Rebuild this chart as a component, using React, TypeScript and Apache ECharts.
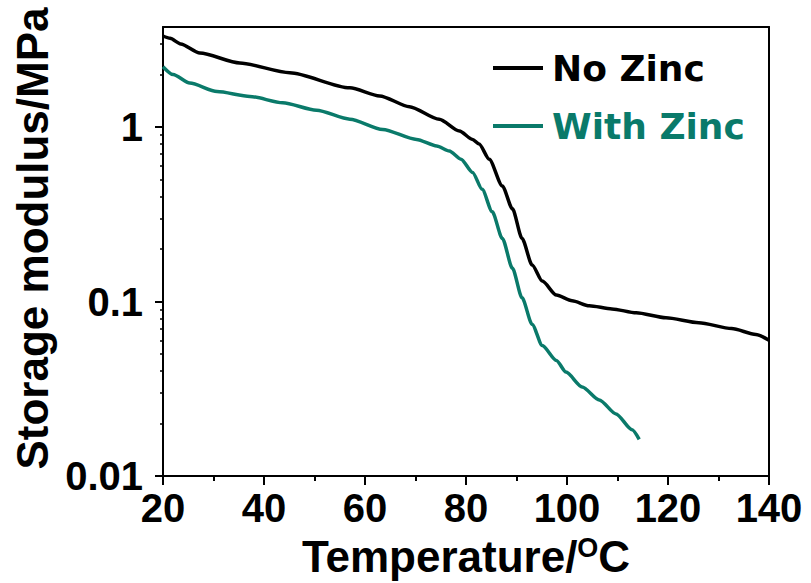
import React, { useEffect, useRef } from 'react';
import * as echarts from 'echarts';

const seriesNames = ['No Zinc', 'With Zinc'];
const seriesColors = ['#000000', '#0a7a6a'];

const noZincTemp = [20, 21.4, 23.5, 27.3, 35.2, 45.1, 57, 62.9, 68.8, 74.7, 78.7, 81.3, 82.6, 84.6, 87.2, 89.2, 91.1, 93.1, 95.1, 97.9, 101, 104.4, 108.9, 113.7, 119.6, 126.1, 132.6, 137.4, 140];
const noZincModulus = [3.33, 3.23, 3.0, 2.66, 2.33, 2.05, 1.68, 1.51, 1.31, 1.11, 0.95, 0.85, 0.8, 0.655, 0.46, 0.34, 0.23, 0.162, 0.131, 0.109, 0.101, 0.0946, 0.0908, 0.0862, 0.0807, 0.0756, 0.07, 0.0648, 0.06];

const withZincTemp = [20, 22, 25.3, 30.7, 37.2, 43.7, 50.4, 57, 63.5, 70.2, 74.2, 76.7, 79, 81.3, 83.2, 85.2, 87.2, 89.2, 91.1, 93.1, 95.1, 97.9, 99.8, 103, 106.4, 109.7, 112.9, 114.3];
const withZincModulus = [2.22, 2.0, 1.79, 1.6, 1.5, 1.38, 1.25, 1.11, 0.97, 0.85, 0.78, 0.73, 0.655, 0.55, 0.44, 0.327, 0.23, 0.155, 0.105, 0.074, 0.056, 0.046, 0.0394, 0.0324, 0.0273, 0.0227, 0.0184, 0.0162];

const xMin = 20;
const xMax = 140;
const xInterval = 20;
const yMin = 0.01;
const yMax = 3.75;
const yMajorValues = [0.01, 0.1, 1];
const yMajorLabels = ['0.01', '0.1', '1'];
const yMinorValues = [0.02, 0.03, 0.04, 0.05, 0.06, 0.07, 0.08, 0.09, 0.2, 0.3, 0.4, 0.5, 0.6, 0.7, 0.8, 0.9, 2, 3];

export default function App() {
  const ref = useRef<HTMLDivElement>(null);
  useEffect(() => {
    if (!ref.current) return;
    const chart = echarts.init(ref.current, null, { renderer: 'svg' });
    const font = 'Liberation Sans';
    const axisLine = { show: true, lineStyle: { color: '#000', width: 2 } };
    const zip = (xs: number[], ys: number[]) => xs.map((x, i) => [x, ys[i]]);
    const option: any = {
      animation: false,
      backgroundColor: '#fff',
      color: seriesColors,
      grid: { left: 163, right: 42, top: 27, bottom: 104, containLabel: false },
      legend: {
        orient: 'vertical',
        left: 488,
        top: 45,
        itemWidth: 50,
        itemHeight: 4,
        itemGap: 22,
        icon: 'rect',
        selectedMode: false,
        data: [
          { name: seriesNames[0], textStyle: { color: seriesColors[0] } },
          { name: seriesNames[1], textStyle: { color: seriesColors[1] } },
        ],
        textStyle: { fontFamily: 'DejaVu Sans', fontWeight: 'bold', fontSize: 36, padding: [0, 0, 0, 4] },
      },
      xAxis: [
        {
          type: 'value',
          position: 'bottom',
          min: xMin,
          max: xMax,
          interval: xInterval,
          axisLine,
          axisTick: { show: true, inside: false, length: 9, lineStyle: { color: '#000', width: 2 } },
          minorTick: { show: true, splitNumber: 2, length: 5, lineStyle: { color: '#000', width: 2 } },
          splitLine: { show: false },
          axisLabel: { fontFamily: font, fontWeight: 'bold', fontSize: 40, color: '#000', margin: 12 },
          name: 'Temperature/{sup|O}C',
          nameLocation: 'middle',
          nameGap: 58,
          nameTextStyle: {
            fontFamily: font,
            fontWeight: 'bold',
            fontSize: 44,
            color: '#000',
            rich: {
              sup: { fontFamily: font, fontWeight: 'bold', fontSize: 27, color: '#000', verticalAlign: 'top', lineHeight: 44 },
            },
          },
        },
        {
          type: 'value',
          position: 'top',
          min: xMin,
          max: xMax,
          interval: xInterval,
          axisLine,
          axisTick: { show: false },
          axisLabel: { show: false },
          splitLine: { show: false },
        },
      ],
      yAxis: [
        {
          type: 'log',
          logBase: 10,
          position: 'left',
          min: yMin,
          max: yMax,
          axisLine,
          axisTick: { show: true, inside: false, length: 8, customValues: yMajorValues, lineStyle: { color: '#000', width: 2 } },
          splitLine: { show: false },
          axisLabel: {
            customValues: yMajorValues,
            fontFamily: font,
            fontWeight: 'bold',
            fontSize: 40,
            color: '#000',
            margin: 20,
            formatter: (v: number) => {
              const i = yMajorValues.findIndex((m) => Math.abs(Math.log10(m) - Math.log10(v)) < 1e-6);
              return i >= 0 ? yMajorLabels[i] : '';
            },
          },
          name: 'Storage modulus/MPa',
          nameLocation: 'middle',
          nameGap: 102,
          nameTextStyle: { fontFamily: font, fontWeight: 'bold', fontSize: 44, color: '#000', padding: [0, 0, 0, 26] },
        },
        {
          type: 'log',
          logBase: 10,
          position: 'left',
          min: yMin,
          max: yMax,
          axisLine: { show: false },
          axisTick: { show: true, inside: false, length: 3, customValues: yMinorValues, lineStyle: { color: '#000', width: 1.5 } },
          axisLabel: { show: false },
          splitLine: { show: false },
        },
        {
          type: 'log',
          logBase: 10,
          position: 'right',
          min: yMin,
          max: yMax,
          axisLine,
          axisTick: { show: false },
          axisLabel: { show: false },
          splitLine: { show: false },
        },
      ],
      series: [
        {
          name: seriesNames[0],
          type: 'line',
          data: zip(noZincTemp, noZincModulus),
          showSymbol: false,
          smooth: 0.25,
          smoothMonotone: 'x',
          lineStyle: { width: 3.5, color: seriesColors[0] },
          itemStyle: { color: seriesColors[0] },
        },
        {
          name: seriesNames[1],
          type: 'line',
          data: zip(withZincTemp, withZincModulus),
          showSymbol: false,
          smooth: 0.25,
          smoothMonotone: 'x',
          lineStyle: { width: 3.5, color: seriesColors[1] },
          itemStyle: { color: seriesColors[1] },
        },
      ],
    };
    chart.setOption(option);
    return () => chart.dispose();
  }, []);
  return (
    <div
      ref={ref}
      style={{ position: 'fixed', left: 0, top: 0, width: 811, height: 583, background: '#fff' }}
    />
  );
}
